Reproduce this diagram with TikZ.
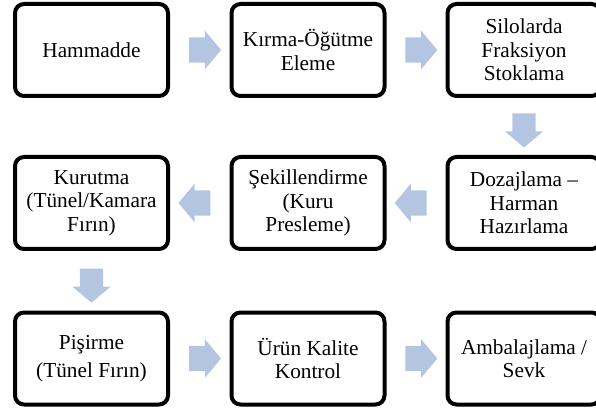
\documentclass[tikz,border=0pt]{standalone}
\usepackage{fontspec}
\setmainfont{Liberation Serif}
\usetikzlibrary{shapes.arrows,calc}
\definecolor{arrowblue}{RGB}{180,197,225}
\begin{document}
\begin{tikzpicture}[x=1pt,y=-1pt,
  box/.style={draw=black,line width=4pt,rounded corners=9pt,minimum width=153pt,minimum height=92pt,
    align=center,font=\fontsize{21.3}{23.5}\selectfont,inner sep=0pt},
  barrow/.style={single arrow,fill=arrowblue,draw=none,minimum height=32pt,
    single arrow head extend=6.5pt,inner xsep=0pt,inner ysep=12.5pt,
    text height=0pt,text depth=0pt,single arrow tip angle=100},
  barrowv/.style={barrow,inner xsep=11.5pt,inner ysep=0pt,minimum height=34pt,
    single arrow head extend=7.5pt,shape border rotate=270}]
\useasboundingbox (0,0) rectangle (596,411);
\clip (0,0) rectangle (596,411);
% row 1
\node[box] (b1) at (91.5,50) {Hammadde};
\node[box] (b2) at (308,50) {Kırma-Öğütme\\Eleme};
\node[box] (b3) at (524,50) {Silolarda\\Fraksiyon\\Stoklama};
% row 2
\node[box] (b4) at (91.5,203) {Kurutma\\(Tünel/Kamara\\Fırın)};
\node[box] (b5) at (308,203) {Şekillendirme\\(Kuru\\Presleme)};
\node[box] (b6) at (524,203) {Dozajlama –\\Harman\\Hazırlama};
% row 3
\node[box] (b7) at (91.5,358.5) {Pişirme\\[5pt](Tünel Fırın)};
\node[box] (b8) at (308,358.5) {Ürün Kalite\\Kontrol};
\node[box] (b9) at (524,358.5) {Ambalajlama /\\Sevk};
% arrows
\node[barrow] (a12) at ($(b1.east)!0.5!(b2.west)$) {};
\node[barrow] (a23) at ($(b2.east)!0.5!(b3.west)$) {};
\node[barrowv] (a36) at ($(b3.south)!0.5!(b6.north)+(0,-1)$) {};
\node[barrow,shape border rotate=180] (a65) at ($(b6.west)!0.5!(b5.east)$) {};
\node[barrow,shape border rotate=180] (a54) at ($(b5.west)!0.5!(b4.east)$) {};
\node[barrowv] (a47) at ($(b4.south)!0.5!(b7.north)$) {};
\node[barrow] (a78) at ($(b7.east)!0.5!(b8.west)$) {};
\node[barrow] (a89) at ($(b8.east)!0.5!(b9.west)$) {};
\end{tikzpicture}
\end{document}
